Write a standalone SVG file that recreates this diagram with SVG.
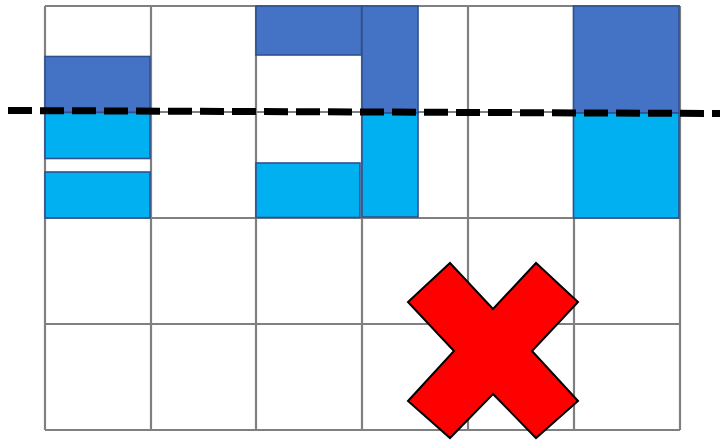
<svg xmlns="http://www.w3.org/2000/svg" width="720" height="441" viewBox="0 0 720 441">
<style>
.g{stroke:#808080;stroke-width:2.2;fill:none}
.d{fill:#4472C4;stroke:#2F528F;stroke-width:1.6}
.l{fill:#00B0F0;stroke:#2F528F;stroke-width:1.6}
</style>
<rect width="720" height="441" fill="#fff"/>
<g id="grid" class="g">
<path d="M45 6V430M151 6V430M256 6V430M362 6V430M468 6V430M574 6V430M680 6V430"/>
<path d="M45 6H680M45 112H680M45 218H680M45 324H680M45 430H680"/>
</g>
<g id="blocks">
<rect id="b1" class="d" x="45" y="56.5" width="105" height="56"/>
<rect id="b2" class="l" x="45" y="112.5" width="105" height="46"/>
<rect id="b3" class="l" x="45" y="172" width="105" height="46"/>
<rect id="b4" class="d" x="256" y="6" width="105.5" height="49"/>
<rect id="b5" class="d" x="362" y="6" width="56" height="107"/>
<rect id="b6" class="l" x="362" y="113" width="56" height="104"/>
<rect id="b7" class="l" x="256" y="163" width="104" height="54.5"/>
<rect id="b8" class="d" x="573.5" y="6" width="105.5" height="107"/>
<rect id="b9" class="l" x="573.5" y="113" width="105.5" height="105"/>
</g>
<g id="connectors">
<line x1="8" y1="110.5" x2="720" y2="113.5" stroke="#000" stroke-width="7" stroke-dasharray="24 8"/>
</g>
<g id="cross">
<polygon points="450,263 493,309 536,263 578,302 532,351 578,401 536,438 493,394 450,438 408,401 454,351 408,302" fill="#FF0000" stroke="#000" stroke-width="2"/>
</g>
</svg>
